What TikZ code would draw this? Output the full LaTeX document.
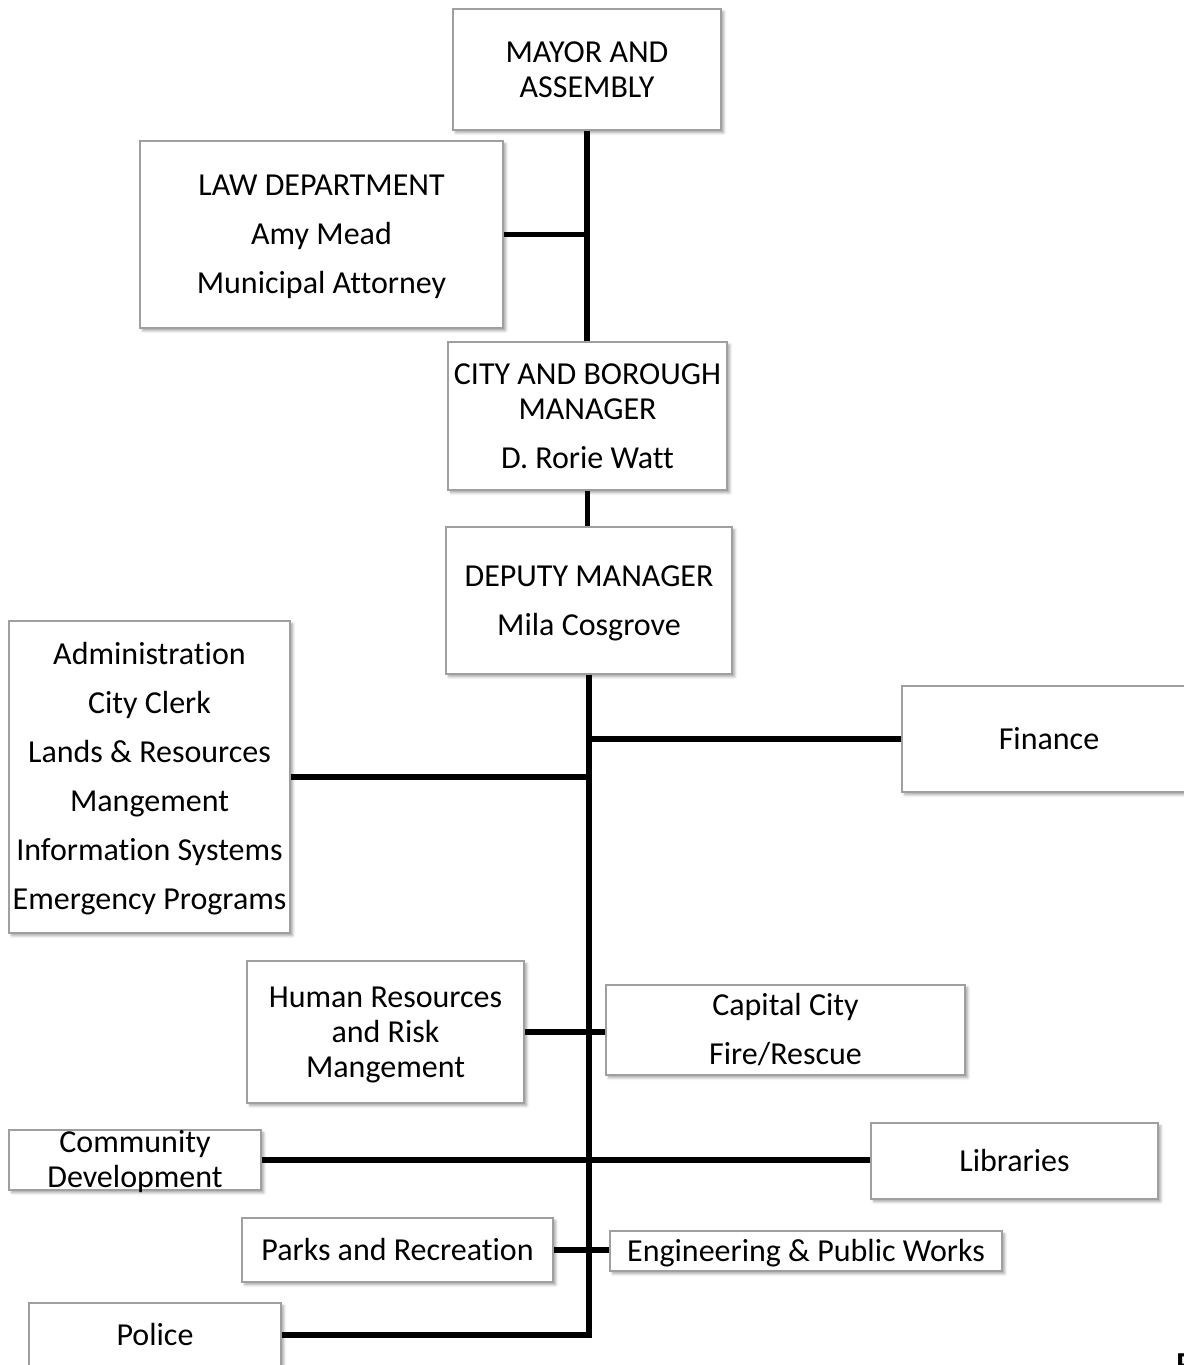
\documentclass[tikz,border=0pt]{standalone}
\usepackage{fontspec}
\setmainfont{Carlito}[Ligatures=NoCommon]
\usetikzlibrary{shadows.blur}
\newcommand{\rowtxt}[1]{\raisebox{0pt}[0.644em][0pt]{#1}}
\begin{document}
\begin{tikzpicture}[x=0.75pt,y=-0.75pt,
  box/.style={draw=gray!75, line width=0.9pt, fill=white, align=center, inner sep=0pt,
    font=\fontsize{24}{26.25}\selectfont,
    blur shadow={shadow xshift=2pt, shadow yshift=-2pt, shadow blur radius=2pt, shadow opacity=35}},
  conn/.style={line width=3.8pt}]
\useasboundingbox (0,0) rectangle (1184,1365);

\node[box, minimum width=201pt, minimum height=90.75pt] (mayor) at (587,69.5)
  {\rowtxt{MAYOR AND}\\\rowtxt{ASSEMBLY}};
\node[box, minimum width=272.25pt, minimum height=140.25pt] (law) at (321.5,234.5)
  {\rowtxt{LAW DEPARTMENT}\\[10.5pt]\rowtxt{Amy Mead}\\[10.5pt]\rowtxt{Municipal Attorney}};
\node[box, minimum width=209.25pt, minimum height=111pt] (cbm) at (587.5,416)
  {\rowtxt{CITY AND BOROUGH}\\\rowtxt{MANAGER}\\[10.5pt]\rowtxt{D. Rorie Watt}};
\node[box, minimum width=214.5pt, minimum height=110.25pt] (dep) at (589,600.5)
  {\rowtxt{DEPUTY MANAGER}\\[10.5pt]\rowtxt{Mila Cosgrove}};
\node[box, minimum width=210.75pt, minimum height=234pt] (admin) at (149.5,777)
  {\rowtxt{Administration}\\[10.5pt]\rowtxt{City Clerk}\\[10.5pt]\rowtxt{Lands \& Resources}\\[10.5pt]\rowtxt{Mangement}\\[10.5pt]\rowtxt{Information Systems}\\[10.5pt]\rowtxt{Emergency Programs}};
\node[box, minimum width=220.5pt, minimum height=79.5pt] (fin) at (1049,739)
  {\rowtxt{Finance}};
\node[box, minimum width=207.75pt, minimum height=106.5pt] (hr) at (385.5,1032)
  {\rowtxt{Human Resources}\\\rowtxt{and Risk}\\\rowtxt{Mangement}};
\node[box, minimum width=269.25pt, minimum height=67.5pt] (cap) at (785.5,1030)
  {\rowtxt{Capital City}\\[10.5pt]\rowtxt{Fire/Rescue}};
\node[box, minimum width=189pt, minimum height=45pt] (comm) at (135,1160)
  {\rowtxt{Community}\\\rowtxt{Development}};
\node[box, minimum width=215.25pt, minimum height=57pt] (lib) at (1014.5,1161)
  {\rowtxt{Libraries}};
\node[box, minimum width=233.25pt, minimum height=48pt] (parks) at (397.5,1250)
  {\rowtxt{Parks and Recreation}};
\node[box, minimum width=294pt, minimum height=30pt] (eng) at (806,1251)
  {\rowtxt{Engineering \& Public Works}};
\node[box, minimum width=189pt, minimum height=48pt] (police) at (155,1335)
  {\rowtxt{Police}};

\node[anchor=base west, inner sep=0pt, font=\fontsize{24}{26.25}\selectfont\bfseries] (pcut) at (1176,1374) {P};

\coordinate (trunkend) at (dep.south |- police.east);

\draw[conn] (mayor.south) -- (mayor.south |- cbm.north);
\draw[conn] (law.east) -- (law.east -| mayor.south);
\draw[conn] (cbm.south) -- (cbm.south |- dep.north);
\draw[conn] (dep.south) -- (trunkend) -- (police.east);
\draw[conn] (fin.west) -- (fin.west -| dep.south);
\draw[conn] (admin.east) -- (admin.east -| dep.south);
\draw[conn] (hr.east) -- (hr.east -| cap.west);
\draw[conn] (comm.east) -- (comm.east -| lib.west);
\draw[conn] (parks.east) -- (parks.east -| eng.west);
\end{tikzpicture}
\end{document}
